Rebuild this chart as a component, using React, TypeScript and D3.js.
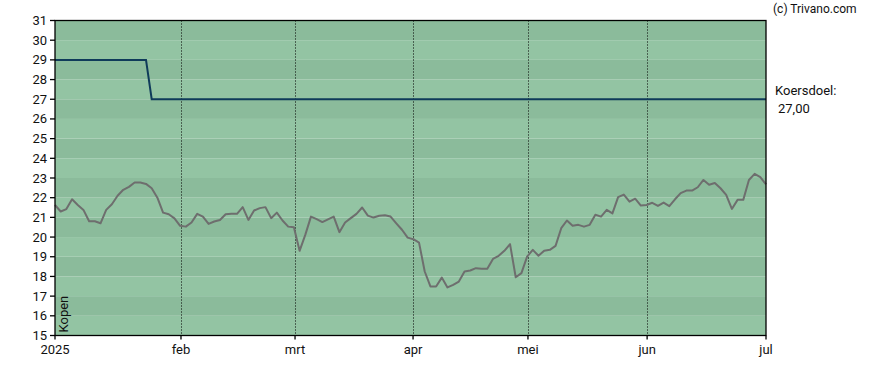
import React from "react";
import * as d3 from "d3";

const prices: number[] = [
  21.63, 21.3, 21.42, 21.92, 21.63, 21.38, 20.8, 20.8, 20.7, 21.38,
  21.67, 22.1, 22.4, 22.55, 22.77, 22.77, 22.7, 22.48, 22.0, 21.24,
  21.16, 20.95, 20.57, 20.53, 20.74, 21.18, 21.04, 20.67, 20.79, 20.87,
  21.16, 21.18, 21.18, 21.52, 20.87, 21.35, 21.47, 21.52, 20.96, 21.24,
  20.84, 20.53, 20.5, 19.3, 20.11, 21.04, 20.91, 20.76, 20.9, 21.04,
  20.25, 20.74, 20.96, 21.18, 21.5, 21.09, 20.99, 21.08, 21.11, 21.04,
  20.7, 20.37, 19.97, 19.89, 19.72, 18.25, 17.49, 17.49, 17.94, 17.44,
  17.57, 17.74, 18.25, 18.3, 18.42, 18.39, 18.39, 18.89, 19.05, 19.3,
  19.64, 17.96, 18.17, 19.01, 19.35, 19.05, 19.31, 19.35, 19.55, 20.45,
  20.84, 20.58, 20.62, 20.53, 20.62, 21.13, 21.04, 21.38, 21.2, 22.03,
  22.16, 21.8, 21.95, 21.6, 21.63, 21.74, 21.58, 21.75, 21.57, 21.92,
  22.23, 22.36, 22.36, 22.53, 22.9, 22.66, 22.75, 22.48, 22.14, 21.43,
  21.89, 21.89, 22.9, 23.21, 23.04, 22.68,
];

// koersdoel (target) per trading day
const targetLevels: number[] = [29, 27];
const targetChangeIndex = 17;

const monthLabels: string[] = ["2025", "feb", "mrt", "apr", "mei", "jun", "jul"];
const monthTickIndex: number[] = [0, 22.15, 42.2, 62.95, 83.15, 104.1, 125];

const yTicks: number[] = d3.range(15, 32);

const W = 888;
const H = 370;
const M = { left: 55, right: 766, top: 20.5, bottom: 335.5 };

export default function App() {
  const x = d3.scaleLinear().domain([0, 125]).range([M.left, M.right]);
  const y = d3.scaleLinear().domain([15, 31]).range([M.bottom, M.top]);

  const target = prices.map((_, i) => (i < targetChangeIndex ? targetLevels[0] : targetLevels[1]));

  const line = d3
    .line<number>()
    .x((_, i) => x(i))
    .y((d) => y(d));

  const font = "Roboto, 'Liberation Sans', sans-serif";

  return (
    <svg width={W} height={H} style={{ position: "absolute", left: 0, top: 0 }}>
      {yTicks.slice(0, -1).map((v) => (
        <rect
          key={"b" + v}
          x={M.left}
          y={y(v + 1)}
          width={M.right - M.left}
          height={y(v) - y(v + 1)}
          fill={(31 - (v + 1)) % 2 === 0 ? "#8bbb9b" : "#93c4a3"}
        />
      ))}
      {monthTickIndex.slice(1, -1).map((m, i) => (
        <line
          key={"v" + i}
          x1={Math.round(x(m)) + 0.5}
          x2={Math.round(x(m)) + 0.5}
          y1={M.top}
          y2={M.bottom}
          stroke="#000"
          strokeWidth={1}
          strokeDasharray="1,2"
        />
      ))}
      <path d={line(target) || ""} fill="none" stroke="#0f3b5a" strokeWidth={2} />
      <path d={line(prices) || ""} fill="none" stroke="#6e6e6e" strokeWidth={2} strokeLinejoin="round" />
      <rect
        x={M.left}
        y={M.top}
        width={M.right - M.left}
        height={M.bottom - M.top}
        fill="none"
        stroke="#000"
        strokeWidth={1.3}
      />
      {yTicks.map((v) => (
        <g key={"y" + v}>
          <line x1={M.left - 5} x2={M.left} y1={y(v)} y2={y(v)} stroke="#000" strokeWidth={1.3} />
          <text
            x={M.left - 8}
            y={y(v)}
            dy="0.35em"
            textAnchor="end"
            fontFamily={font}
            fontSize={13}
            fill="#111"
          >
            {v}
          </text>
        </g>
      ))}
      {monthTickIndex.map((m, i) => (
        <g key={"x" + i}>
          <line x1={x(m)} x2={x(m)} y1={M.bottom} y2={M.bottom + 4} stroke="#000" strokeWidth={1.3} />
          <text
            x={x(m)}
            y={M.bottom + 18}
            textAnchor="middle"
            fontFamily={font}
            fontSize={13}
            fill="#111"
          >
            {monthLabels[i]}
          </text>
        </g>
      ))}
      <text
        transform={`translate(68,${M.bottom - 3}) rotate(-90)`}
        fontFamily={font}
        fontSize={13}
        fill="#111"
      >
        Kopen
      </text>
      <text x={773} y={13} fontFamily={font} fontSize={12} fill="#111">
        (c) Trivano.com
      </text>
      <text x={775} y={95} fontFamily={font} fontSize={13} fill="#111">
        Koersdoel:
      </text>
      <text x={778} y={113} fontFamily={font} fontSize={13} fill="#111">
        27,00
      </text>
    </svg>
  );
}
